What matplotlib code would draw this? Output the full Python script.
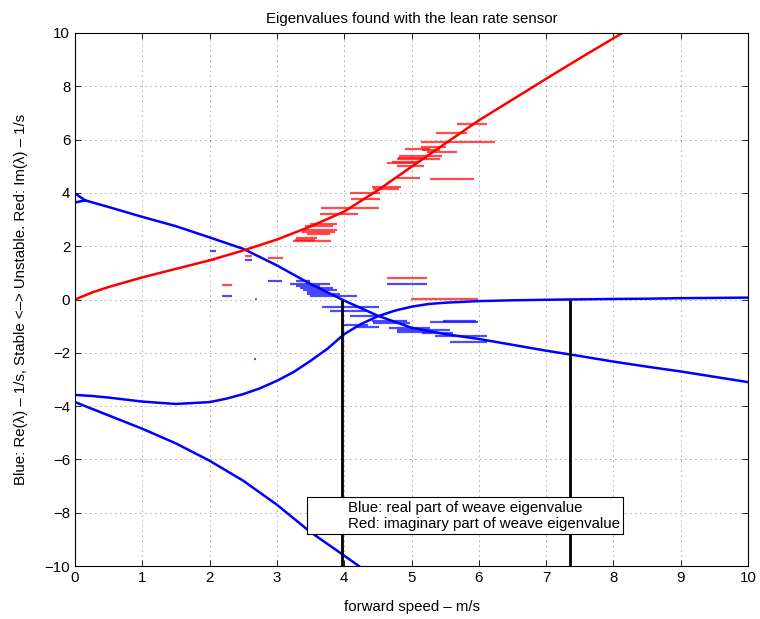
import matplotlib
matplotlib.use("Agg")
import matplotlib.pyplot as plt
from matplotlib.lines import Line2D

plt.rcParams['font.family'] = ['Liberation Sans', 'DejaVu Sans']
plt.rcParams['font.size'] = 10.8

# model eigenvalues vs forward speed (m/s)
weave_speed = [0.15, 0.5, 1.0, 1.5, 2.0, 2.5, 3.0, 3.5, 4.0, 4.5, 5.0, 5.5,
               6.0, 6.5, 7.0, 7.5, 8.0, 8.5, 9.0, 9.5, 10.0]
weave_re = [3.72, 3.47, 3.1, 2.75, 2.33, 1.9, 1.28, 0.58, -0.04, -0.61, -1.06,
            -1.3, -1.48, -1.7, -1.92, -2.12, -2.33, -2.52, -2.7, -2.9, -3.1]

# two real roots before they join into the weave pair
split_speed = [0.0, 0.15]
split_hi = [3.98, 3.72]
split_lo = [3.64, 3.72]

im_speed = [0.0, 0.25, 0.5, 1.0, 1.5, 2.0, 2.5, 3.0, 3.5, 4.0, 4.5, 5.0, 5.5,
            6.0, 6.5, 7.0, 7.5, 8.0, 8.5]
weave_im = [0.0, 0.26, 0.47, 0.83, 1.15, 1.47, 1.84, 2.25, 2.74, 3.3, 4.1,
            4.98, 5.85, 6.72, 7.5, 8.28, 9.05, 9.8, 10.55]

capsize_speed = [0.0, 0.25, 0.5, 1.0, 1.5, 2.0, 2.25, 2.5, 2.75, 3.0, 3.25,
                 3.5, 3.75, 4.0, 4.25, 4.5, 4.75, 5.0, 5.25, 5.5, 6.0, 6.5,
                 7.0, 7.5, 8.0, 8.5, 9.0, 9.5, 10.0]
capsize = [-3.58, -3.62, -3.68, -3.83, -3.92, -3.85, -3.72, -3.55, -3.33,
           -3.05, -2.72, -2.3, -1.85, -1.3, -0.92, -0.63, -0.42, -0.27, -0.17,
           -0.12, -0.06, -0.03, -0.01, 0.005, 0.02, 0.03, 0.05, 0.06, 0.07]

caster_speed = [0.0, 0.5, 1.0, 1.5, 2.0, 2.5, 3.0, 3.5, 4.0, 4.3]
caster = [-3.85, -4.35, -4.85, -5.4, -6.05, -6.8, -7.7, -8.73, -9.61, -10.15]

# stability boundaries
weave_speed_crit = 3.97
capsize_speed_crit = 7.36

# measured eigenvalues: speed range low/high and value
meas_im_lo = [5.67, 5.36, 5.56, 5.14, 5.14, 4.91, 5.15, 5.23, 4.81, 4.80, 4.78,
              4.71, 4.64, 4.78, 4.79, 5.27, 4.41, 4.43, 4.09, 4.10, 3.66, 3.64,
              3.49, 3.42, 3.37, 3.38, 3.44, 3.29, 3.27, 3.24, 2.53, 2.87, 2.19,
              2.67, 4.64, 4.99, 1.98]
meas_im_hi = [6.12, 5.83, 6.24, 5.57, 5.51, 5.27, 5.42, 5.68, 5.46, 5.23, 5.43,
              5.11, 5.07, 5.18, 5.13, 5.93, 4.85, 4.82, 4.53, 4.53, 4.51, 4.20,
              3.89, 3.84, 3.89, 3.86, 3.79, 3.59, 3.56, 3.81, 2.63, 3.09, 2.33,
              2.70, 5.23, 5.99, 2.08]
meas_im = [6.57, 6.24, 5.90, 5.90, 5.73, 5.64, 5.61, 5.55, 5.40, 5.32, 5.26,
           5.17, 5.11, 5.02, 4.56, 4.52, 4.21, 4.13, 3.98, 3.77, 3.42, 3.21,
           2.83, 2.75, 2.61, 2.54, 2.47, 2.32, 2.23, 2.18, 1.63, 1.55, 0.54,
           0.02, 0.81, 0.03, 1.50]

meas_re_lo = [2.01, 2.53, 2.87, 2.19, 3.29, 3.19, 3.29, 3.34, 3.39, 3.44, 3.44,
              3.49, 2.66, 4.64, 3.67, 3.79, 4.09, 3.96, 4.19, 4.41, 4.43, 5.27,
              5.47, 4.66, 4.78, 4.78, 5.15, 5.35, 5.57]
meas_re_hi = [2.09, 2.63, 3.08, 2.33, 3.49, 3.79, 3.64, 3.84, 3.89, 3.74, 3.94,
              4.19, 2.69, 5.23, 4.51, 4.33, 4.51, 4.36, 4.52, 4.93, 4.98, 5.99,
              5.96, 5.27, 5.57, 5.32, 5.62, 6.12, 6.12]
meas_re = [1.81, 1.48, 0.69, 0.12, 0.71, 0.58, 0.51, 0.45, 0.36, 0.30, 0.19,
           0.12, -2.23, 0.58, -0.29, -0.43, -0.62, -0.95, -1.04, -0.82, -0.87,
           -0.86, -0.82, -1.07, -1.14, -1.21, -1.27, -1.36, -1.59]

fig = plt.figure(figsize=(7.6, 6.19), dpi=100)
ax = fig.add_axes([0.0987, 0.0856, 0.8855, 0.8611])

ax.hlines(meas_im, meas_im_lo, meas_im_hi, colors='red', lw=1.6, alpha=0.7)
ax.hlines(meas_re, meas_re_lo, meas_re_hi, colors='blue', lw=1.6, alpha=0.7)

ax.plot(weave_speed, weave_re, color='blue', lw=1.8)
ax.plot(split_speed, split_hi, color='blue', lw=1.8)
ax.plot(split_speed, split_lo, color='blue', lw=1.8)
ax.plot(capsize_speed, capsize, color='blue', lw=1.8)
ax.plot(caster_speed, caster, color='blue', lw=1.8)
ax.plot(im_speed, weave_im, color='red', lw=1.8)

ax.vlines([weave_speed_crit, capsize_speed_crit], -10, 0, colors='black', lw=2)

ax.set_xlim(0, 10)
ax.set_ylim(-10, 10)
ax.set_xticks(range(0, 11))
ax.set_yticks(range(-10, 11, 2))
ax.tick_params(direction='in', top=True, right=True, length=4, width=0.6,
               labelsize=10.8)
ax.grid(True, color='black', linestyle=(0, (1, 5)), lw=0.6, alpha=0.7)
for s in ax.spines.values():
    s.set_linewidth(0.8)

ax.set_title('Eigenvalues found with the lean rate sensor', fontsize=10.8, pad=7)
ax.set_xlabel('forward speed – m/s', fontsize=10.8, labelpad=11)
ax.set_ylabel('Blue: Re(λ) – 1/s, Stable <–> Unstable. Red: Im(λ) – 1/s',
              fontsize=10.8, labelpad=12)

blank = [Line2D([], [], color='none'), Line2D([], [], color='none')]
leg = ax.legend(blank, ['Blue: real part of weave eigenvalue',
                        'Red: imaginary part of weave eigenvalue'],
                loc='lower left', bbox_to_anchor=(0.345, 0.0595),
                borderaxespad=0, fancybox=False, framealpha=1,
                edgecolor='black', handlelength=2.0, handletextpad=0.5,
                labelspacing=0.15, borderpad=0.22, fontsize=10.8)
leg.get_frame().set_linewidth(0.8)

fig.savefig('out.png', dpi=100)
